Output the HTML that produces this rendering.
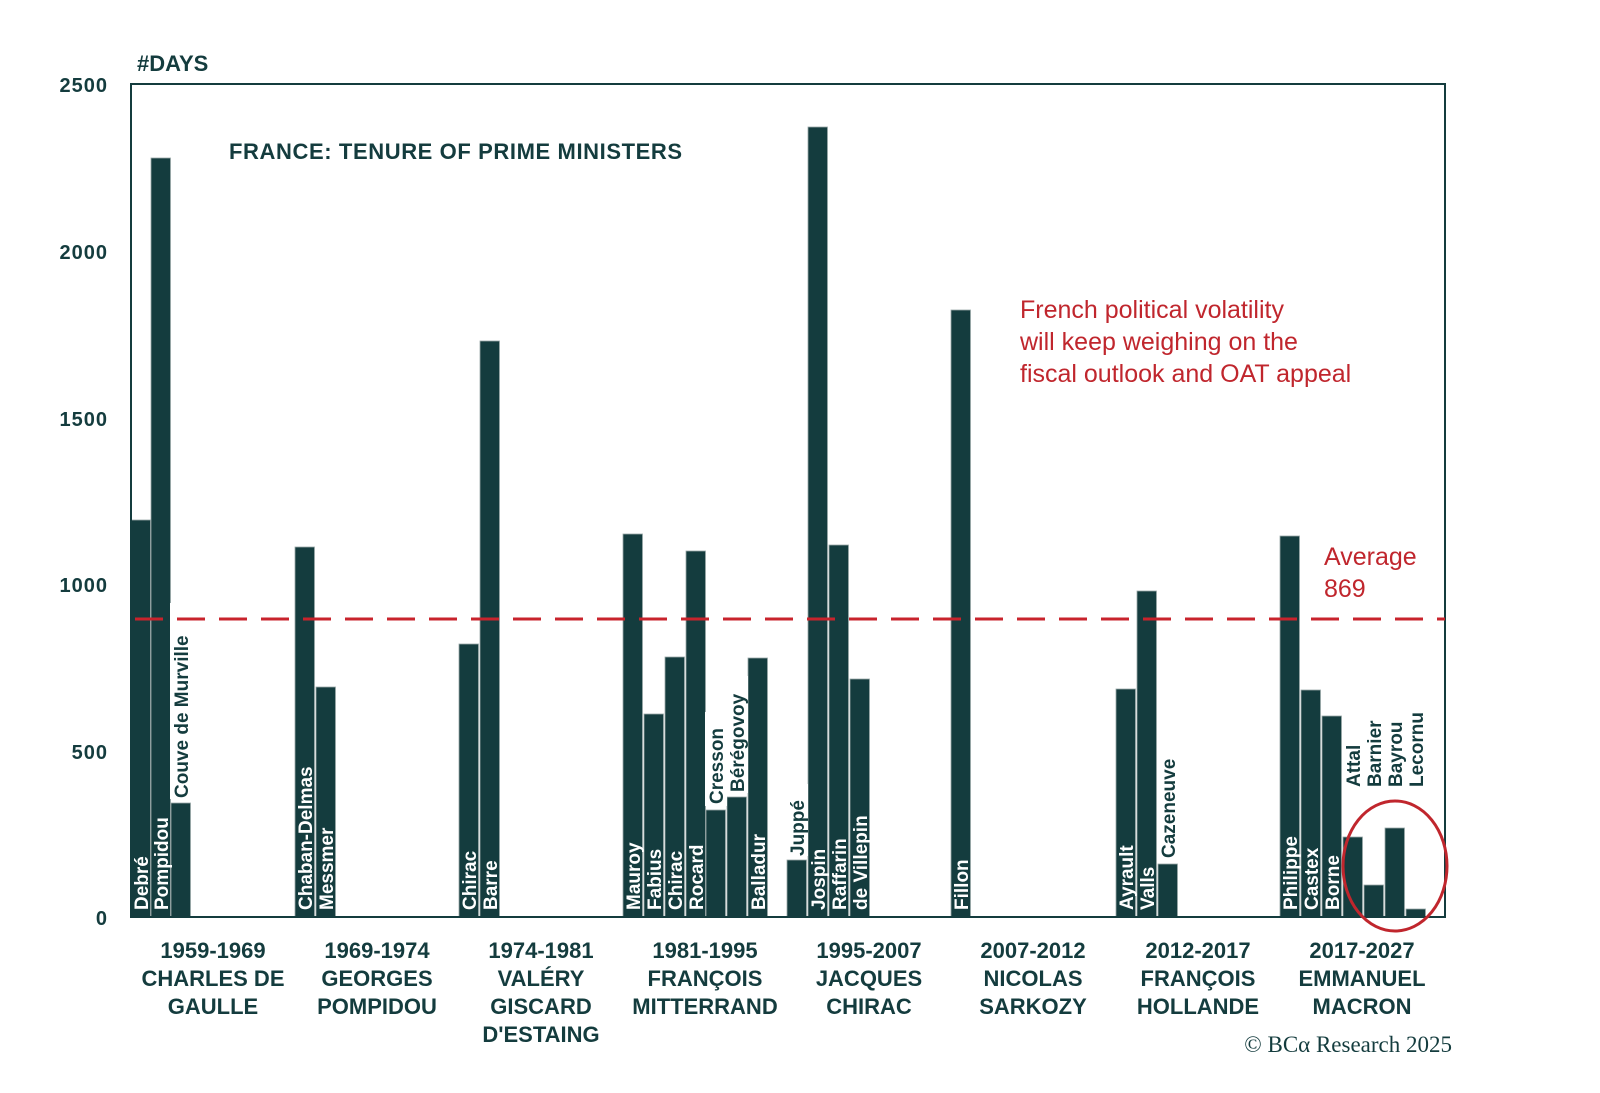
<!DOCTYPE html>
<html><head><meta charset="utf-8"><style>
html,body{margin:0;padding:0;background:#fff;overflow:hidden;width:1600px;height:1093px;}
svg{display:block;font-family:"Liberation Sans",sans-serif;}
</style></head><body>
<svg width="1600" height="1093" viewBox="0 0 1600 1093" xmlns="http://www.w3.org/2000/svg">
<rect width="1600" height="1093" fill="#fff"/>
<g fill="#143c3e" stroke="#9aa8a8" stroke-width="0.8">
<rect x="131" y="520" width="19.5" height="397"/>
<rect x="151" y="158" width="19.5" height="759"/>
<rect x="171" y="803" width="19.5" height="114"/>
<rect x="295" y="547" width="19.5" height="370"/>
<rect x="316" y="687" width="19.5" height="230"/>
<rect x="459" y="644" width="19.5" height="273"/>
<rect x="480" y="341" width="19.5" height="576"/>
<rect x="623" y="534" width="19.5" height="383"/>
<rect x="644" y="714" width="19.5" height="203"/>
<rect x="665" y="657" width="19.5" height="260"/>
<rect x="686" y="551" width="19.5" height="366"/>
<rect x="706" y="810" width="19.5" height="107"/>
<rect x="727" y="797" width="19.5" height="120"/>
<rect x="748" y="658" width="19.5" height="259"/>
<rect x="787" y="860" width="19.5" height="57"/>
<rect x="808" y="127" width="19.5" height="790"/>
<rect x="829" y="545" width="19.5" height="372"/>
<rect x="850" y="679" width="19.5" height="238"/>
<rect x="951" y="310" width="19.5" height="607"/>
<rect x="1116" y="689" width="19.5" height="228"/>
<rect x="1137" y="591" width="19.5" height="326"/>
<rect x="1158" y="864" width="19.5" height="53"/>
<rect x="1280" y="536" width="19.5" height="381"/>
<rect x="1301" y="690" width="19.5" height="227"/>
<rect x="1322" y="716" width="19.5" height="201"/>
<rect x="1343" y="837" width="19.5" height="80"/>
<rect x="1364" y="885" width="19.5" height="32"/>
<rect x="1385" y="828" width="19.5" height="89"/>
<rect x="1406" y="909" width="19.5" height="8"/>
</g>
<g font-size="19" fill="#fff" font-weight="bold">
<text transform="translate(148,910) rotate(-90)">Debré</text>
<text transform="translate(168,910) rotate(-90)">Pompidou</text>
<text transform="translate(312,910) rotate(-90)">Chaban-Delmas</text>
<text transform="translate(333,910) rotate(-90)">Messmer</text>
<text transform="translate(476,910) rotate(-90)">Chirac</text>
<text transform="translate(497,910) rotate(-90)">Barre</text>
<text transform="translate(640,910) rotate(-90)">Mauroy</text>
<text transform="translate(661,910) rotate(-90)">Fabius</text>
<text transform="translate(682,910) rotate(-90)">Chirac</text>
<text transform="translate(703,910) rotate(-90)">Rocard</text>
<text transform="translate(765,910) rotate(-90)">Balladur</text>
<text transform="translate(825,910) rotate(-90)">Jospin</text>
<text transform="translate(846,910) rotate(-90)">Raffarin</text>
<text transform="translate(867,910) rotate(-90)">de Villepin</text>
<text transform="translate(968,910) rotate(-90)">Fillon</text>
<text transform="translate(1133,910) rotate(-90)">Ayrault</text>
<text transform="translate(1154,910) rotate(-90)">Valls</text>
<text transform="translate(1297,910) rotate(-90)">Philippe</text>
<text transform="translate(1318,910) rotate(-90)">Castex</text>
<text transform="translate(1339,910) rotate(-90)">Borne</text>
</g>
<g fill="#fff">
<rect x="170" y="603" width="22" height="196"/>
<rect x="705" y="712" width="22" height="94"/>
<rect x="726" y="676" width="22" height="117"/>
<rect x="786" y="784" width="22" height="72"/>
<rect x="1157" y="734" width="22" height="126"/>
</g>
<g font-size="19" fill="#143c3e" font-weight="bold">
<text transform="translate(188,798) rotate(-90)">Couve de Murville</text>
<text transform="translate(723,804) rotate(-90)">Cresson</text>
<text transform="translate(744,792) rotate(-90)">Bérégovoy</text>
<text transform="translate(804,856) rotate(-90)">Juppé</text>
<text transform="translate(1175,858) rotate(-90)">Cazeneuve</text>
<text transform="translate(1360,787) rotate(-90)">Attal</text>
<text transform="translate(1381,787) rotate(-90)">Barnier</text>
<text transform="translate(1402,787) rotate(-90)">Bayrou</text>
<text transform="translate(1423,787) rotate(-90)">Lecornu</text>
</g>
<rect x="131" y="84" width="1314" height="833" fill="none" stroke="#143c3e" stroke-width="2"/>
<line x1="135" y1="619" x2="1445" y2="619" stroke="#c8232c" stroke-width="3" stroke-dasharray="28,14"/>
<ellipse cx="1395" cy="866" rx="52" ry="65" fill="none" stroke="#c0262d" stroke-width="3"/>
<g font-size="20" font-weight="bold" fill="#143c3e" text-anchor="end" letter-spacing="1">
<text x="108" y="92">2500</text><text x="108" y="259">2000</text><text x="108" y="426">1500</text>
<text x="108" y="592">1000</text><text x="108" y="759">500</text><text x="108" y="925">0</text>
</g>
<text x="137" y="71" font-size="22" font-weight="bold" fill="#143c3e">#DAYS</text>
<text x="229" y="159" font-size="22" font-weight="bold" fill="#143c3e" letter-spacing="0.6">FRANCE: TENURE OF PRIME MINISTERS</text>
<g font-size="25" fill="#c0262d">
<text x="1020" y="318">French political volatility</text>
<text x="1020" y="350">will keep weighing on the</text>
<text x="1020" y="382">fiscal outlook and OAT appeal</text>
<text x="1324" y="565">Average</text>
<text x="1324" y="597">869</text>
</g>
<g font-size="22" font-weight="bold" fill="#143c3e" text-anchor="middle">
<text x="213" y="958">1959-1969</text><text x="213" y="986">CHARLES DE</text><text x="213" y="1014">GAULLE</text>
<text x="377" y="958">1969-1974</text><text x="377" y="986">GEORGES</text><text x="377" y="1014">POMPIDOU</text>
<text x="541" y="958">1974-1981</text><text x="541" y="986">VALÉRY</text><text x="541" y="1014">GISCARD</text><text x="541" y="1042">D'ESTAING</text>
<text x="705" y="958">1981-1995</text><text x="705" y="986">FRANÇOIS</text><text x="705" y="1014">MITTERRAND</text>
<text x="869" y="958">1995-2007</text><text x="869" y="986">JACQUES</text><text x="869" y="1014">CHIRAC</text>
<text x="1033" y="958">2007-2012</text><text x="1033" y="986">NICOLAS</text><text x="1033" y="1014">SARKOZY</text>
<text x="1198" y="958">2012-2017</text><text x="1198" y="986">FRANÇOIS</text><text x="1198" y="1014">HOLLANDE</text>
<text x="1362" y="958">2017-2027</text><text x="1362" y="986">EMMANUEL</text><text x="1362" y="1014">MACRON</text>
</g>
<text x="1452" y="1052" font-size="23" font-family="Liberation Serif,serif" fill="#143c3e" text-anchor="end">© BCα Research 2025</text>
</svg>
</body></html>
